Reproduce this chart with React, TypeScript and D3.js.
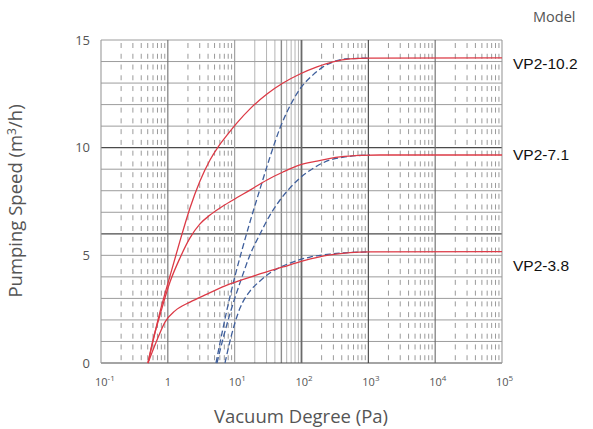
import React from "react";
import * as d3 from "d3";

const W = 593;
const H = 429;

const yLabelValues = [0, 5, 10, 15];
const yGridValues = d3.range(0, 16);
const heavyYValues = [0, 6, 10];
const decadeValues = [0.1, 1, 10, 100, 1000, 10000, 100000];
const decadeExponents = ["-1", "", "1", "2", "3", "4", "5"];
const modelNames = ["VP2-10.2", "VP2-7.1", "VP2-3.8"];

// Solid (red) curves: pressure (Pa) / speed (m3/h)
const red102P = [0.505, 0.763, 1.077, 1.521, 2.146, 3.029, 4.275, 5.633, 7.95, 10.84, 16.96, 30.46, 52.88, 94.97, 170.6, 296.0, 531.8, 1059, 100000];
const red102S = [0, 2.37, 4.04, 5.67, 7.2, 8.45, 9.43, 10.03, 10.64, 11.15, 11.8, 12.49, 13.0, 13.42, 13.75, 13.98, 14.12, 14.16, 14.17];
const red71P = [0.505, 0.6, 0.763, 1.077, 1.521, 2.146, 3.029, 4.275, 6.034, 9.443, 16.96, 30.46, 52.88, 94.97, 170.6, 376.8, 750.6, 1495, 100000];
const red71S = [0, 1.07, 2.23, 3.76, 4.88, 5.81, 6.46, 6.87, 7.2, 7.57, 8.03, 8.5, 8.87, 9.2, 9.38, 9.57, 9.64, 9.66, 9.66];
const red38P = [0.505, 0.689, 0.907, 1.28, 2.146, 3.855, 8.517, 21.59, 52.88, 105.3, 267.0, 531.8, 1059, 100000];
const red38S = [0, 1.07, 1.9, 2.42, 2.83, 3.2, 3.67, 4.09, 4.46, 4.74, 5.02, 5.13, 5.16, 5.17];

// Dashed (blue) curves
const blue102P = [5.256, 6.465, 7.95, 10.12, 12.88, 16.96, 23.94, 33.79, 47.69, 67.3, 94.97, 148.7, 209.8, 296.0, 447.6, 1059];
const blue102S = [0, 1.39, 2.69, 4.04, 5.25, 6.55, 8.08, 9.57, 10.91, 11.94, 12.73, 13.38, 13.75, 13.98, 14.12, 14.16];
const blue71P = [5.441, 6.925, 9.123, 12.44, 16.96, 23.94, 33.79, 47.69, 67.3, 94.97, 170.6, 267.0, 447.6, 1059];
const blue71S = [0, 1.3, 2.6, 3.86, 5.02, 5.99, 6.87, 7.57, 8.13, 8.59, 9.15, 9.43, 9.57, 9.66];
const blue38P = [7.168, 8.815, 12.02, 16.96, 23.94, 33.79, 67.3, 134.1, 267.0, 531.8, 1059];
const blue38S = [0, 1.21, 2.55, 3.34, 3.81, 4.18, 4.64, 4.92, 5.06, 5.13, 5.16];

const redSeries = [
  { p: red102P, s: red102S },
  { p: red71P, s: red71S },
  { p: red38P, s: red38S },
];
const blueSeries = [
  { p: blue102P, s: blue102S },
  { p: blue71P, s: blue71S },
  { p: blue38P, s: blue38S },
];
const labelSpeeds = [13.95, 9.7, 4.55];

const left = 101, right = 502, top = 40, bottom = 363;

export default function App() {
  const x = d3.scaleLog().domain([0.1, 100000]).range([left, right]);
  const y = d3.scaleLinear().domain([0, 15]).range([bottom, top]);
  const line = d3
    .line<[number, number]>()
    .x((d) => x(d[0]))
    .y((d) => y(d[1]))
    .curve(d3.curveMonotoneX);

  const band = y(0) - y(1);
  const period = band / 2;
  const dash = 5;
  const gap = period - dash;

  const minors: { v: number; solid: boolean }[] = [];
  for (let i = 0; i < decadeValues.length - 1; i++) {
    const base = decadeValues[i];
    for (let k = 2; k <= 9; k++) {
      minors.push({ v: base * k, solid: base === 10 });
    }
  }

  const decadeColor = (v: number) => {
    if (v === 100) return "#6a6a6a";
    if (v === 1000) return "#404040";
    if (v === 1) return "#707070";
    if (v === 10000) return "#6a6a6a";
    return "#9a9a9a";
  };

  const sansTick = "'Open Sans', 'Noto Sans', sans-serif";
  const arial = "'Liberation Sans', Arial, sans-serif";

  return (
    <svg width={W} height={H} style={{ position: "absolute", left: 0, top: 0, background: "#fff" }}>
      <rect x={0} y={0} width={W} height={H} fill="#fff" />
      {/* minor vertical grid */}
      {minors.map((m, i) =>
        m.solid ? (
          <line
            key={"m" + i}
            x1={x(m.v)}
            x2={x(m.v)}
            y1={top}
            y2={bottom}
            stroke={Math.round(m.v) === 50 ? "#8a8a8a" : "#b4b4b4"}
            strokeWidth={Math.round(m.v) === 50 ? 1.4 : 1}
          />
        ) : (
          <line
            key={"m" + i}
            x1={x(m.v)}
            x2={x(m.v)}
            y1={top}
            y2={bottom}
            stroke="#9a9a9a"
            strokeWidth={1}
            strokeDasharray={`${dash} ${gap}`}
            strokeDashoffset={dash + gap - 3}
          />
        )
      )}
      {/* horizontal grid */}
      {yGridValues.map((v) => (
        <line
          key={"h" + v}
          x1={left}
          x2={right}
          y1={y(v)}
          y2={y(v)}
          stroke={heavyYValues.includes(v) ? "#4a4a4a" : "#9c9c9c"}
          strokeWidth={heavyYValues.includes(v) ? 1.2 : 1}
        />
      ))}
      {/* decade verticals */}
      {decadeValues.map((v) => (
        <line
          key={"d" + v}
          x1={x(v)}
          x2={x(v)}
          y1={top}
          y2={bottom}
          stroke={decadeColor(v)}
          strokeWidth={v === 100 ? 1.8 : 1.1}
        />
      ))}
      {/* curves */}
      {blueSeries.map((s, i) => (
        <path
          key={"b" + i}
          d={line(s.p.map((p, j) => [p, s.s[j]] as [number, number])) || ""}
          fill="none"
          stroke="#3f5f9c"
          strokeWidth={1.3}
          strokeDasharray="6 3"
        />
      ))}
      {redSeries.map((s, i) => (
        <path
          key={"r" + i}
          d={line(s.p.map((p, j) => [p, s.s[j]] as [number, number])) || ""}
          fill="none"
          stroke="#dc3a46"
          strokeWidth={1.3}
        />
      ))}
      {/* y tick labels */}
      {yLabelValues.map((v) => (
        <text key={"yl" + v} x={90} y={y(v) + 4.5} textAnchor="end" fontSize={13} fill="#555" fontFamily={sansTick}>
          {v}
        </text>
      ))}
      {/* x tick labels */}
      {decadeValues.map((v, i) =>
        decadeExponents[i] === "" ? (
          <text key={"xl" + v} x={x(v)} y={386} textAnchor="middle" fontSize={11} fill="#555" fontFamily={sansTick}>
            1
          </text>
        ) : (
          <text key={"xl" + v} x={x(v) - 6} y={386} fontSize={11} fill="#555" fontFamily={sansTick}>
            10
            <tspan dy={-5} fontSize={8}>
              {decadeExponents[i]}
            </tspan>
          </text>
        )
      )}
      {/* axis titles */}
      <text x={301} y={423} textAnchor="middle" fontSize={18.5} fill="#555" fontFamily={sansTick}>
        Vacuum Degree (Pa)
      </text>
      <text
        transform={`translate(22, ${201}) rotate(-90)`}
        textAnchor="middle"
        fontSize={18.5}
        fill="#555"
        fontFamily={sansTick}
      >
        Pumping Speed (m<tspan dy={-6} fontSize={12}>3</tspan>
        <tspan dy={6}>/h)</tspan>
      </text>
      {/* legend */}
      <text x={533} y={22} fontSize={14.5} fill="#555" fontFamily={sansTick}>
        Model
      </text>
      {modelNames.map((m, i) => (
        <text key={m} x={513} y={y(labelSpeeds[i]) + 6} fontSize={15.5} fill="#111" fontFamily={arial}>
          {m}
        </text>
      ))}
    </svg>
  );
}
